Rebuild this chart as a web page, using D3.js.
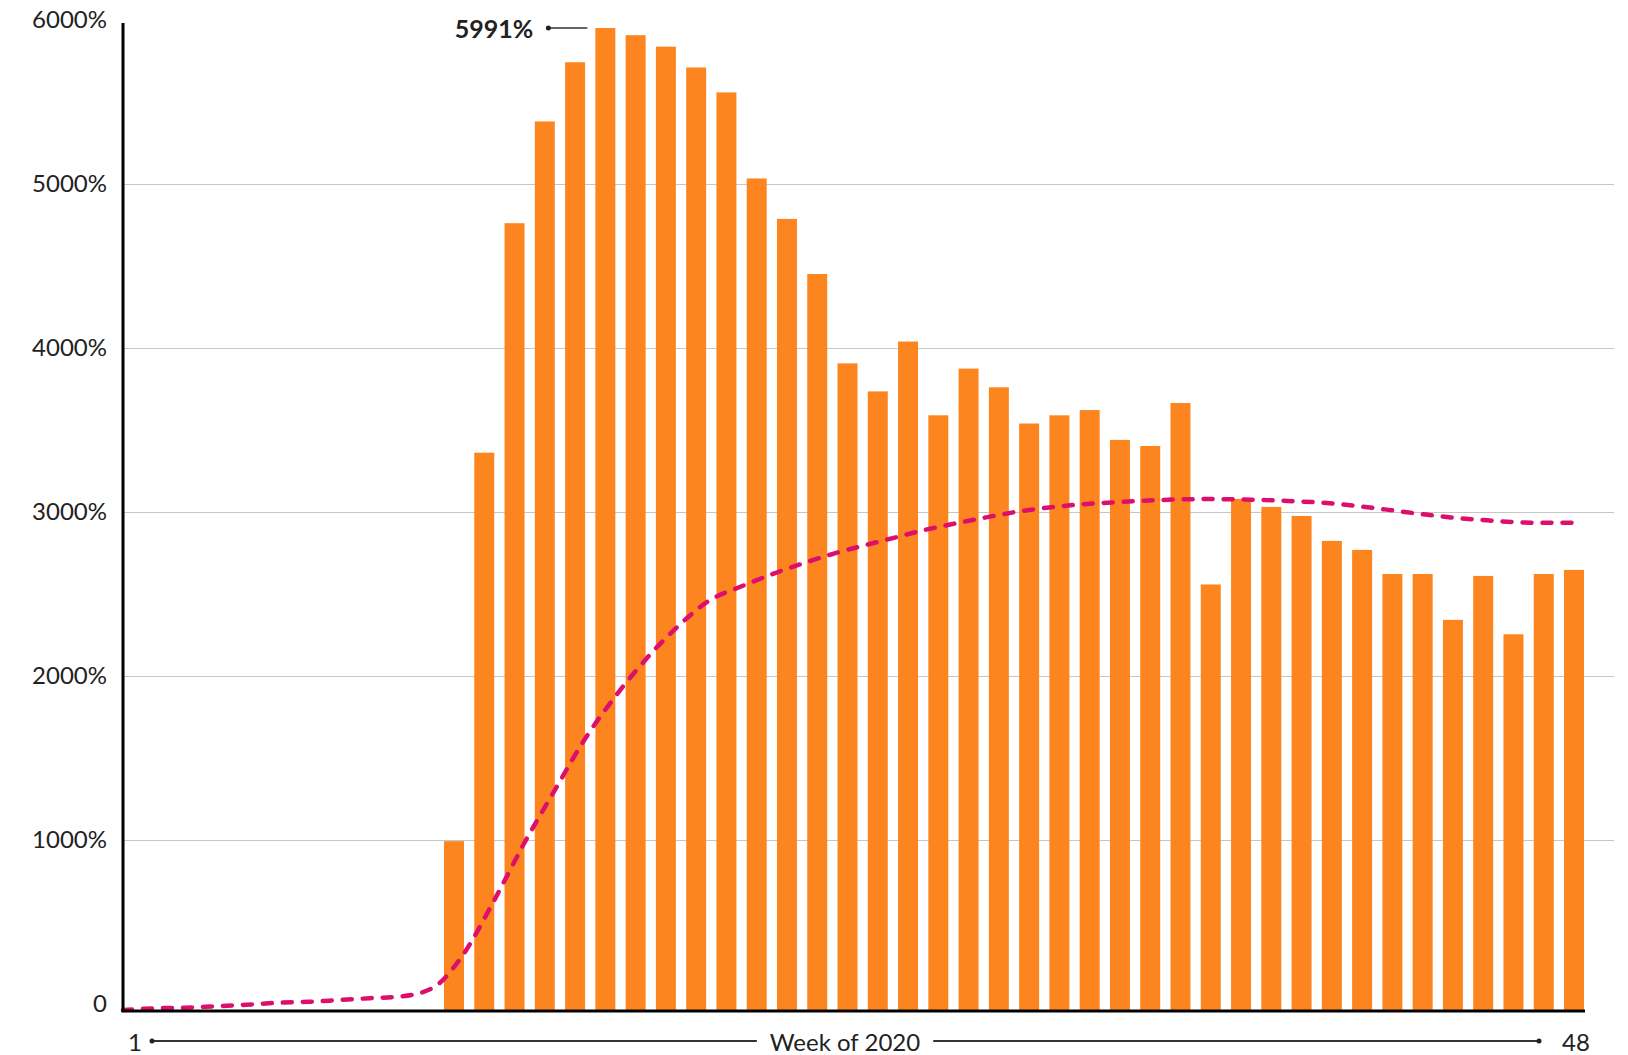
<html>
<head>
    <meta charset="utf-8">
    <title>Week of 2020</title>
    <script src="https://d3js.org/d3.v7.min.js" charset="utf-8"></script>
    <style>
        body { margin: 0; background: #fff; }
        text { font-family: Lato, "Open Sans", sans-serif; fill: #222; }
    </style>
</head>
<body>
    <div id="chart"></div>
    <script>
        // bars: weeks 11-48
        const barWeeks = [11, 12, 13, 14, 15, 16, 17, 18, 19, 20, 21, 22, 23, 24, 25, 26, 27, 28, 29,
            30, 31, 32, 33, 34, 35, 36, 37, 38, 39, 40, 41, 42, 43, 44, 45, 46, 47, 48];
        const barValues = [1030, 3400, 4800, 5421, 5782, 5991, 5947, 5877, 5750, 5598, 5073, 4826, 4490,
            3945, 3774, 4078, 3628, 3913, 3799, 3578, 3628, 3660, 3478, 3441, 3703, 2596, 3118, 3069,
            3014, 2862, 2807, 2660, 2660, 2380, 2648, 2292, 2660, 2685];

        // dashed line: weeks 1-48
        const lineWeeks = [1, 2, 3, 4, 5, 6, 7, 8, 9, 10, 11, 12, 13, 14, 15, 16, 17, 18, 19, 20, 21, 22, 23, 24,
            25, 26, 27, 28, 29, 30, 31, 32, 33, 34, 35, 36, 37, 38, 39, 40, 41, 42, 43, 44, 45, 46, 47, 48];
        const lineValues = [0, 10, 14, 23, 32, 44, 50, 61, 72, 83, 131, 333, 661, 1019, 1346, 1664, 1926, 2153,
            2345, 2499, 2582, 2657, 2723, 2783, 2834, 2882, 2930, 2970, 3007, 3041, 3066, 3084, 3096, 3106,
            3114, 3117, 3116, 3111, 3103, 3093, 3074, 3051, 3027, 3005, 2990, 2977, 2972, 2972];

        const yTicks = [0, 1000, 2000, 3000, 4000, 5000, 6000];
        const yTickLabels = ["0", "1000%", "2000%", "3000%", "4000%", "5000%", "6000%"];
        const peakLabel = "5991%";
        const xTitle = "Week of 2020";
        const firstWeekLabel = "1";
        const lastWeekLabel = "48";

        const width = 1628,
            height = 1055,
            left = 123,
            right = 1584,
            bottom = 1010,
            gridRight = 1614,
            barColor = "#fd851f",
            lineColor = "#dd0f6c";

        const svg = d3.select("#chart").append("svg")
            .attr("width", width)
            .attr("height", height);

        const y = d3.scaleLinear().domain([0, 6000]).range([bottom, 26.5]);
        // grid and labels sit a few px higher than the bars in the original
        const yGrid = d3.scaleLinear().domain([0, 6000]).range([1004, 20]);

        const xBar = d3.scaleBand()
            .domain(barWeeks)
            .range([444, right])
            .paddingInner(0.34)
            .paddingOuter(0);

        const xLine = d3.scaleLinear()
            .domain([1, 48])
            .range([left, xBar(48) + xBar.bandwidth() / 2]);

        // grid + y labels
        const yAxis = svg.append("g")
            .attr("transform", `translate(${left},0)`)
            .call(d3.axisLeft(yGrid)
                .tickValues(yTicks)
                .tickFormat((d, i) => yTickLabels[i])
                .tickSize(-(gridRight - left))
                .tickPadding(16));
        yAxis.select(".domain").remove();
        yAxis.selectAll(".tick line")
            .attr("stroke", "#c6c6c6")
            .attr("stroke-width", 1)
            .filter(d => d === 0 || d === 6000).remove();
        yAxis.selectAll(".tick text")
            .style("font-size", "24px")
            .style("font-family", "Lato")
            .attr("fill", "#222");

        // bars
        svg.append("g")
            .selectAll("rect")
            .data(barWeeks)
            .enter()
            .append("rect")
            .attr("x", d => xBar(d))
            .attr("width", xBar.bandwidth())
            .attr("y", (d, i) => y(barValues[i]))
            .attr("height", (d, i) => bottom - y(barValues[i]))
            .attr("fill", barColor);

        // dashed line
        const line = d3.line()
            .x((d, i) => xLine(d))
            .y((d, i) => y(lineValues[i]))
            .curve(d3.curveMonotoneX);

        svg.append("path")
            .datum(lineWeeks)
            .attr("d", line)
            .attr("fill", "none")
            .attr("stroke", lineColor)
            .attr("stroke-width", 4.5)
            .attr("stroke-linecap", "round")
            .attr("stroke-dasharray", "9,11");

        // axes lines
        svg.append("line")
            .attr("x1", left).attr("x2", left)
            .attr("y1", yGrid(6000) + 3).attr("y2", bottom + 2)
            .attr("stroke", "#000").attr("stroke-width", 3);
        svg.append("line")
            .attr("x1", left - 1.5).attr("x2", right + 1)
            .attr("y1", bottom + 1).attr("y2", bottom + 1)
            .attr("stroke", "#000").attr("stroke-width", 3);

        // peak annotation
        const peakIdx = barValues.indexOf(d3.max(barValues));
        const peakX = xBar(barWeeks[peakIdx]);
        const peakY = y(barValues[peakIdx]);
        svg.append("line")
            .attr("x1", peakX - 47).attr("x2", peakX - 8)
            .attr("y1", peakY).attr("y2", peakY)
            .attr("stroke", "#333").attr("stroke-width", 1.5);
        svg.append("circle")
            .attr("cx", peakX - 47).attr("cy", peakY).attr("r", 2.5)
            .attr("fill", "#222");
        svg.append("text")
            .attr("x", peakX - 62).attr("y", peakY)
            .attr("text-anchor", "end")
            .attr("dominant-baseline", "central")
            .style("font-size", "25px")
            .style("font-weight", "bold")
            .text(peakLabel);

        // bottom week axis
        const wy = 1041;
        const firstX = left + 12,
            lastX = xBar(48) + xBar.bandwidth() / 2 + 2;
        const title = svg.append("text")
            .attr("x", 845).attr("y", wy)
            .attr("text-anchor", "middle")
            .attr("dominant-baseline", "central")
            .style("font-size", "24px")
            .text(xTitle);
        const tb = title.node().getBBox();

        svg.append("text")
            .attr("x", firstX).attr("y", wy)
            .attr("text-anchor", "middle")
            .attr("dominant-baseline", "central")
            .style("font-size", "24px")
            .text(firstWeekLabel);
        svg.append("text")
            .attr("x", lastX).attr("y", wy)
            .attr("text-anchor", "middle")
            .attr("dominant-baseline", "central")
            .style("font-size", "24px")
            .text(lastWeekLabel);

        const dotL = firstX + 17, dotR = lastX - 37;
        svg.append("line")
            .attr("x1", dotL).attr("x2", tb.x - 13)
            .attr("y1", wy).attr("y2", wy)
            .attr("stroke", "#333").attr("stroke-width", 1.8);
        svg.append("line")
            .attr("x1", tb.x + tb.width + 13).attr("x2", dotR)
            .attr("y1", wy).attr("y2", wy)
            .attr("stroke", "#333").attr("stroke-width", 1.8);
        svg.selectAll(".wdot")
            .data([dotL, dotR])
            .enter()
            .append("circle")
            .attr("cx", d => d).attr("cy", wy).attr("r", 2.5)
            .attr("fill", "#222");
    </script>
</body>
</html>
